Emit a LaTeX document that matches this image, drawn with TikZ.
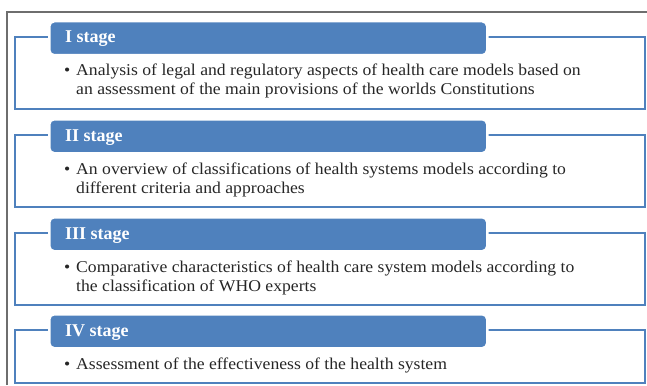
\documentclass[tikz,border=0pt]{standalone}
\usepackage{fontspec}
\setmainfont{Liberation Serif}
\newfontfamily\stagebodyfont[FakeStretch=1.07]{Liberation Serif}
\definecolor{stageblue}{HTML}{4F81BD}
\definecolor{framegray}{HTML}{6E6E6E}
\definecolor{bodytext}{HTML}{262626}
\tikzset{
  outline/.style={draw=stageblue, line width=2pt},
  header/.style={fill=stageblue, draw=white, line width=2.5pt, rounded corners=5pt,
    minimum width=438pt, minimum height=34pt, inner sep=0pt, anchor=north west},
  headtext/.style={text=white, font=\fontsize{18}{20}\selectfont\bfseries, inner sep=0pt, anchor=base west},
  bodytxt/.style={text=bodytext, font=\stagebodyfont\fontsize{16.5}{19}\selectfont, inner sep=0pt, anchor=base west, align=left},
}
\newcommand{\stagebullet}{\makebox[12pt][l]{\textbullet}}
\begin{document}
\begin{tikzpicture}[x=1pt,y=-1pt]
\useasboundingbox (0,0) rectangle (647,385);
\draw[framegray, line width=1.2pt] (7,385) -- (7,12) -- (647,12);
% Stage I
\draw[outline] (15,37) rectangle (644.5,109);
\node[header] (h1) at (48,20) {};
\node[headtext] (l1) at (65,43) {I stage};
\node[bodytxt] (t1) at (64,76) {\stagebullet Analysis of legal and regulatory aspects of health care models based on};
\node[bodytxt] (u1) at (76,95) {an assessment of the main provisions of the worlds Constitutions};
% Stage II
\draw[outline] (15,135) rectangle (644.5,207);
\node[header] (h2) at (48,118) {};
\node[headtext] (l2) at (65,141) {II stage};
\node[bodytxt] (t2) at (64,174) {\stagebullet An overview of classifications of health systems models according to};
\node[bodytxt] (u2) at (76,193) {different criteria and approaches};
% Stage III
\draw[outline] (15,233) rectangle (644.5,305);
\node[header] (h3) at (48,216) {};
\node[headtext] (l3) at (65,239) {III stage};
\node[bodytxt] (t3) at (64,272) {\stagebullet Comparative characteristics of health care system models according to};
\node[bodytxt] (u3) at (76,291) {the classification of WHO experts};
% Stage IV
\draw[outline] (15,330) rectangle (644.5,383);
\node[header] (h4) at (48,313) {};
\node[headtext] (l4) at (65,336) {IV stage};
\node[bodytxt] (t4) at (64,369) {\stagebullet Assessment of the effectiveness of the health system};
\end{tikzpicture}
\end{document}
